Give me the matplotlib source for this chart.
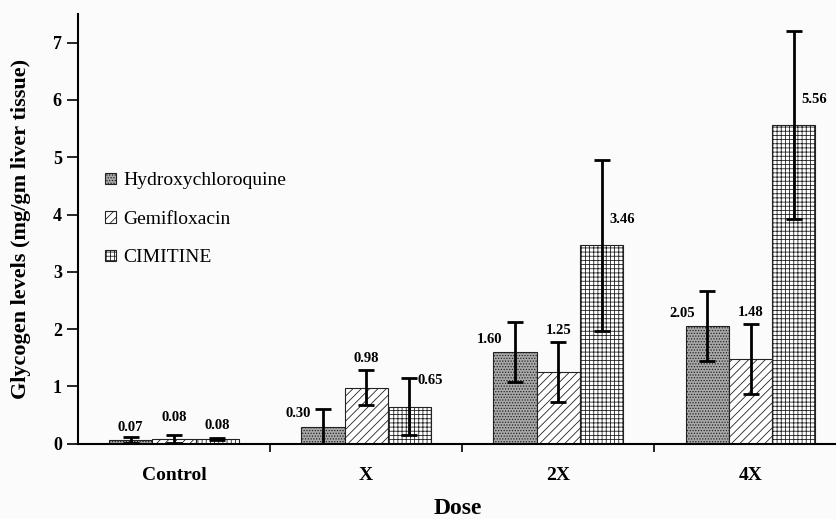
import matplotlib
matplotlib.use('Agg')
import matplotlib.pyplot as plt
import numpy as np

doses = ['Control', 'X', '2X', '4X']
drugs = ['Hydroxychloroquine', 'Gemifloxacin', 'CIMITINE']

hcq_mean = [0.07, 0.30, 1.60, 2.05]
hcq_sd = [0.05, 0.30, 0.52, 0.61]
gemi_mean = [0.08, 0.98, 1.25, 1.48]
gemi_sd = [0.07, 0.31, 0.52, 0.61]
cim_mean = [0.08, 0.65, 3.46, 5.56]
cim_sd = [0.02, 0.50, 1.50, 1.64]

means = [hcq_mean, gemi_mean, cim_mean]
sds = [hcq_sd, gemi_sd, cim_sd]

plt.rcParams['font.family'] = ['Liberation Serif', 'DejaVu Serif']
plt.rcParams['hatch.linewidth'] = 0.6

fig = plt.figure(figsize=(8.37, 5.19), dpi=100, facecolor='#fbfbfb')
ax = fig.add_axes([0.093, 0.145, 0.907, 0.828])
ax.set_facecolor('#fbfbfb')

width = 0.225
x = np.arange(len(doses))
fills = ['#a9a9a9', 'white', 'white']
hatches = ['......', '////', '++++']

for i in range(3):
    pos = x + (i - 1) * width
    ax.bar(pos, means[i], width, color=fills[i], edgecolor='#222222',
           hatch=hatches[i], linewidth=0.8, label=drugs[i], zorder=2)
    ax.errorbar(pos, means[i], yerr=sds[i], fmt='none', ecolor='black',
                elinewidth=2, capsize=6, capthick=2, zorder=3)

    for j in range(len(doses)):
        txt = f'{means[i][j]:.2f}'
        if j == 0:
            dy = [0.22, 0.38, 0.23][i]
            ax.text(pos[j], means[i][j] + dy, txt, ha='center', va='center',
                    fontsize=10.5, fontweight='bold')
        elif i == 0:
            ax.text(pos[j] - 0.065, means[i][j] + 0.22, txt, ha='right',
                    va='center', fontsize=10.5, fontweight='bold')
        elif i == 1:
            ax.text(pos[j], means[i][j] + sds[i][j] + 0.2, txt, ha='center',
                    va='center', fontsize=10.5, fontweight='bold')
        else:
            ax.text(pos[j] + 0.04, means[i][j] + 0.45, txt, ha='left',
                    va='center', fontsize=10.5, fontweight='bold')

ax.set_xlim(-0.5, 3.45)
ax.set_ylim(0, 7.5)
ax.set_yticks(range(8))
ax.set_xticks(x)
ax.set_xticklabels(doses, fontsize=14, fontweight='bold')
ax.set_xticks(x[:-1] + 0.5, minor=True)
ax.tick_params(axis='x', which='major', length=0, pad=17)
ax.tick_params(axis='x', which='minor', length=6, width=1.2, direction='out')
ax.tick_params(axis='y', length=8, width=1.2, direction='out', labelsize=13)
for lab in ax.get_yticklabels():
    lab.set_fontweight('bold')

for s in ['top', 'right']:
    ax.spines[s].set_visible(False)
for s in ['left', 'bottom']:
    ax.spines[s].set_linewidth(1.5)

ax.set_ylabel('Glycogen levels (mg/gm liver tissue)', fontsize=16,
              fontweight='bold', labelpad=16)
ax.set_xlabel('Dose', fontsize=17, fontweight='bold', labelpad=10)

ax.legend(loc='upper left', bbox_to_anchor=(0.013, 0.672), frameon=False,
          handlelength=0.55, handleheight=0.55, handletextpad=0.4,
          labelspacing=1.1, prop={'size': 14})

fig.savefig('out.png', dpi=100, facecolor=fig.get_facecolor())
